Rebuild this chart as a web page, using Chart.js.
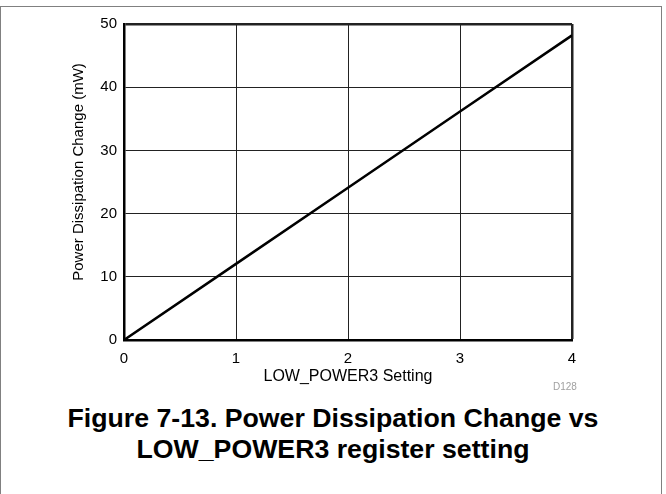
<!DOCTYPE html>
<html>
<head>
<meta charset="utf-8">
<script src="https://cdn.jsdelivr.net/npm/chart.js@4.4.1/dist/chart.umd.min.js"></script>
<style>
  html, body { margin: 0; padding: 0; background: #fff; }
  body { width: 666px; height: 494px; position: relative; overflow: hidden; font-family: "Liberation Sans", Arial, sans-serif; }
  #frame { position: absolute; left: 0; top: 6px; width: 662px; height: 520px; border: 1px solid #808080; box-sizing: border-box; }
  #wrap { position: absolute; left: 0; top: 0; width: 666px; height: 400px; }
  #tag { position: absolute; left: 553px; top: 381px; font-size: 10px; color: #a0a0a0; }
  #caption { position: absolute; left: 0; top: 403px; width: 666px; text-align: center; font-weight: bold; font-size: 26.7px; line-height: 31px; color: #000; }
</style>
</head>
<body>
<div id="frame"></div>
<div id="wrap"><canvas id="chart"></canvas></div>
<div id="tag">D128</div>
<div id="caption">Figure 7-13. Power Dissipation Change vs<br>LOW_POWER3 register setting</div>
<script>
// Data
const settings   = [0, 1, 2, 3, 4];
const powerDelta = [0, 12.05, 24.1, 36.15, 48.2];
const xTicks     = [0, 1, 2, 3, 4];
const yTicks     = [0, 10, 20, 30, 40, 50];
const yTitle     = 'Power Dissipation Change (mW)';

const points = settings.map((s, i) => ({ x: s, y: powerDelta[i] }));

const FONT = '"Liberation Sans", Arial, sans-serif';

// outer frame edges (top/right) drawn thick like the axes
function edgeWidth(ctx, edge) {
  return ctx.tick && ctx.tick.value === edge ? 2.5 : 1;
}

// y title sits a bit above the middle of the axis in the original
const yTitlePlugin = {
  id: 'yTitle',
  afterDraw(chart) {
    const { ctx, chartArea } = chart;
    const cy = (chartArea.top + chartArea.bottom) / 2 - 10;
    ctx.save();
    ctx.translate(79, cy);
    ctx.rotate(-Math.PI / 2);
    ctx.font = '15px ' + FONT;
    ctx.fillStyle = '#000';
    ctx.textAlign = 'center';
    ctx.textBaseline = 'middle';
    ctx.fillText(yTitle, 0, 0);
    ctx.restore();
  }
};

new Chart(document.getElementById('chart'), {
  type: 'line',
  data: {
    datasets: [{
      data: points,
      borderColor: '#000',
      borderWidth: 2.5,
      pointRadius: 0,
      tension: 0,
      fill: false
    }]
  },
  options: {
    responsive: true,
    maintainAspectRatio: false,
    animation: false,
    layout: { padding: { left: 70, top: 24, right: 94, bottom: 14 } },
    plugins: {
      legend: { display: false },
      tooltip: { enabled: false }
    },
    scales: {
      x: {
        type: 'linear',
        min: 0, max: 4,
        afterBuildTicks: s => { s.ticks = xTicks.map(v => ({ value: v })); },
        afterFit: s => { s.height = 46; },
        border: { display: true, color: '#000', width: 2.5 },
        grid: { color: '#222', lineWidth: c => edgeWidth(c, 4), drawTicks: false },
        ticks: { color: '#000', font: { family: FONT, size: 15 }, padding: 10 },
        title: { display: true, text: 'LOW_POWER3 Setting', color: '#000', font: { family: FONT, size: 16 }, padding: { top: 0, bottom: 0 } }
      },
      y: {
        min: 0, max: 50,
        afterBuildTicks: s => { s.ticks = yTicks.map(v => ({ value: v })); },
        afterFit: s => { s.width = 54; },
        border: { display: true, color: '#000', width: 2.5 },
        grid: { color: '#222', lineWidth: c => edgeWidth(c, 50), drawTicks: false },
        ticks: { color: '#000', font: { family: FONT, size: 15 }, padding: 7 },
        title: { display: false }
      }
    }
  },
  plugins: [yTitlePlugin]
});
</script>
</body>
</html>
